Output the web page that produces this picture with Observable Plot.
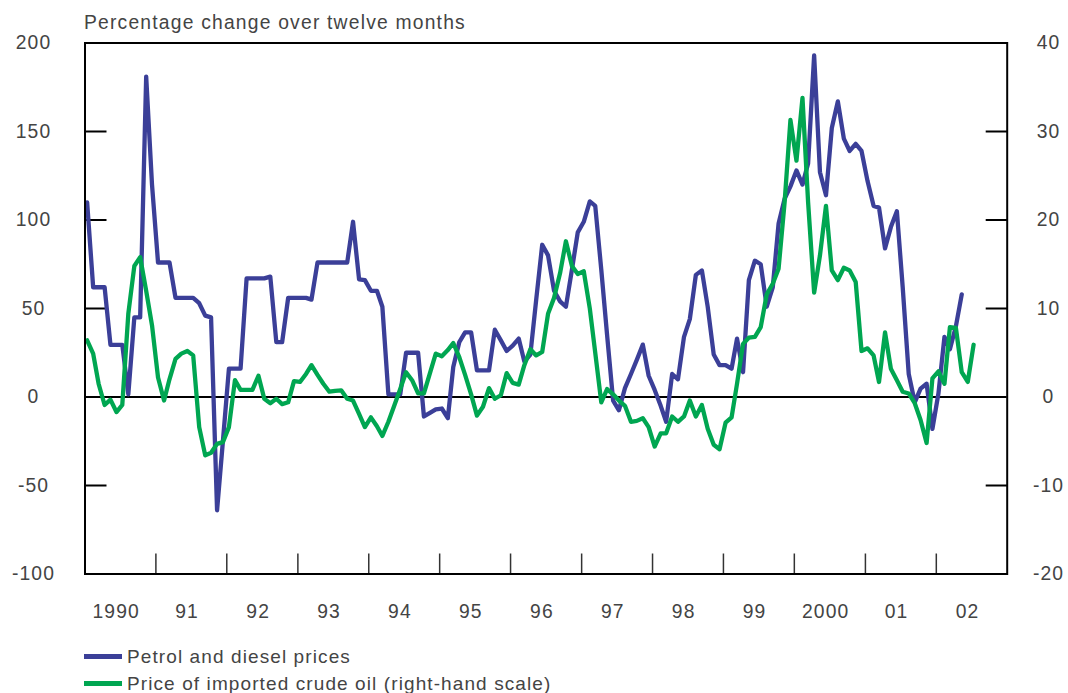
<!DOCTYPE html>
<html><head><meta charset="utf-8">
<script src="https://cdn.jsdelivr.net/npm/d3@7"></script>
<script src="https://cdn.jsdelivr.net/npm/@observablehq/plot@0.6"></script>
<style>
body{margin:0;background:#fff;font-family:"Liberation Sans",Arial,sans-serif;}
#wrap{position:relative;width:1068px;height:693px;overflow:hidden;}
#chart{position:absolute;left:0;top:0;}
#title{position:absolute;left:84px;top:13px;font-size:19.3px;line-height:19px;color:#444;letter-spacing:1.2px;white-space:nowrap;}
#legend{position:absolute;left:84px;top:643px;font-size:19px;color:#444;letter-spacing:1.1px;}
.item{display:flex;align-items:center;height:27px;white-space:nowrap;}
.sw{width:38px;height:5px;margin-right:5px;}
</style></head>
<body><div id="wrap"><div id="chart"></div><div id="title">Percentage change over twelve months</div><div id="legend"></div></div>
<script>
// Monthly data starting January 1990
const startYear = 1990;
// Petrol and diesel prices, % change over twelve months (left scale)
const petrol = [110,62,62,62,29.5,29.5,29.5,1.5,45,45,
181,120,76,76,76,56,56,56,56,53,
46,45,-64,-25,16,16,16,67,67,67,
67,68,31,31,56,56,56,56,55,76,
76,76,76,76,76,99,66.5,66,60,60,
51,1.5,1.5,1.5,25,25,25,-11,-9,-7,
-6.5,-12,17,31,36.5,36.5,15,15,15,38,
32,26,29,33,20,24,55,86,80,60,
54,51,72,93,99,110.5,108,72,35,-2,
-7.5,5,13,21,29.6,12,4,-5,-14,13,
10,34,44,69,71.5,51,24,18,18,16,
33,14,66,77,75,51,62,98,112,119,
128,120,132,193,127,114,152,167,146,139,
143,139,122,108,107,84,96,105,62,13,
-3,4.7,7.5,-18,2,34,27,40,58];
// Price of imported crude oil, % change over twelve months (right scale)
const crude = [6.4,4.9,1.5,-0.9,-0.3,-1.7,-0.9,9.4,14.8,15.8,
12,8.1,2.2,-0.4,2,4.3,4.9,5.2,4.7,-3.4,
-6.6,-6.3,-5.3,-5.1,-3.4,1.9,0.8,0.8,0.8,2.4,
-0.2,-0.7,-0.2,-0.8,-0.6,1.8,1.7,2.6,3.6,2.5,
1.5,0.6,0.7,0.75,-0.2,-0.4,-1.9,-3.4,-2.3,-3.3,
-4.4,-2.8,-1.0,0.9,2.8,1.9,0.4,0.4,2.7,4.9,
4.6,5.3,6.1,4.5,2.5,0.3,-2.1,-1.1,1.0,-0.2,
0.2,2.7,1.6,1.4,3.6,5.4,4.7,5.1,9.4,11.2,
14,17.6,14.8,13.9,14.2,10,5,-0.6,0.9,0.3,
-0.4,-1,-2.8,-2.7,-2.4,-3.4,-5.6,-4.1,-4.1,-2.2,
-2.8,-2.2,-0.4,-2.2,-0.9,-3.6,-5.4,-5.9,-2.9,-2.3,
1.5,6.0,6.7,6.8,7.9,11.6,12.8,14.5,22,31.3,
26.7,33.8,22,11.8,16,21.6,14.3,13.2,14.6,14.3,
13.0,5.2,5.5,4.7,1.7,7.3,3.2,1.9,0.6,0.4,
-0.7,-2.6,-5.2,2.1,2.9,1.5,7.9,7.8,2.8,1.7,5.9];
const yearLabels = ["1990","91","92","93","94","95","96","97","98","99","2000","01","02"];
const leftTicks = [-100,-50,0,50,100,150,200];
const rightTicks = [-20,-10,0,10,20,30,40];
const seriesNames = ["Petrol and diesel prices","Price of imported crude oil (right-hand scale)"];
const seriesColors = ["#3b3f98","#00a651"];

const k = (leftTicks[leftTicks.length-1]-leftTicks[0])/(rightTicks[rightTicks.length-1]-rightTicks[0]);
const toDate = i => new Date(Date.UTC(startYear, i, 12));
const petrolRows = petrol.map((v,i)=>({date:toDate(i), value:v}));
const crudeRows = crude.map((v,i)=>({date:toDate(i), value:v}));
const nYears = yearLabels.length;
const yearBounds = d3.range(1, nYears).map(i=>new Date(Date.UTC(startYear+i,0,1)));
const midYears = d3.range(nYears).map(i=>new Date(Date.UTC(startYear+i,6,1)));
const innerTicks = leftTicks.filter(v=>v!==0 && v!==leftTicks[0] && v!==leftTicks[leftTicks.length-1]);
const fmt = v => String(v).replace("\u2212","-");

const chart = Plot.plot({
  width:1068, height:630,
  marginTop:42.5, marginBottom:56.5, marginLeft:84.5, marginRight:61.3,
  x:{type:"utc", domain:[new Date(Date.UTC(startYear,0,1)), new Date(Date.UTC(startYear+nYears,0,1))]},
  y:{domain:[leftTicks[0], leftTicks[leftTicks.length-1]]},
  style:{fontFamily:"'Liberation Sans', Arial, sans-serif", fontSize:"19.3px", color:"#444", background:"white", letterSpacing:"1.1px"},
  marks:[
    Plot.axisY({anchor:"left", ticks:innerTicks, tickSize:-22, fill:"none", stroke:"#000", strokeWidth:2, label:null}),
    Plot.axisY({anchor:"left", ticks:leftTicks, tickSize:0, tickPadding:51.5, textAnchor:"middle", tickFormat:fmt, label:null}),
    Plot.axisY({anchor:"right", ticks:innerTicks, tickSize:-22, fill:"none", stroke:"#000", strokeWidth:2, label:null}),
    Plot.axisY({anchor:"right", ticks:rightTicks.map(v=>v*k), tickSize:0, tickPadding:41.3, textAnchor:"middle", tickFormat:v=>fmt(Math.round(v/k)), label:null}),
    Plot.axisX({ticks:yearBounds, tickSize:-20, fill:"none", stroke:"#333", strokeWidth:1.5, label:null}),
    Plot.axisX({ticks:midYears, tickSize:0, tickPadding:30, dx:-4, tickFormat:d=>yearLabels[d.getUTCFullYear()-startYear], label:null}),
    Plot.ruleY([0], {stroke:"#000", strokeWidth:2}),
    Plot.line(petrolRows, {x:"date", y:"value", stroke:seriesColors[0], strokeWidth:4.3, strokeLinejoin:"round"}),
    Plot.line(crudeRows, {x:"date", y:d=>d.value*k, stroke:seriesColors[1], strokeWidth:4.3, strokeLinejoin:"round"}),
    Plot.frame({stroke:"#000", strokeWidth:2})
  ]
});
document.getElementById("chart").appendChild(chart);
const leg = document.getElementById("legend");
seriesNames.forEach((n,i)=>{
  const it = document.createElement("div"); it.className="item";
  const sw = document.createElement("span"); sw.className="sw"; sw.style.background=seriesColors[i];
  const tx = document.createElement("span"); tx.textContent=n;
  it.appendChild(sw); it.appendChild(tx); leg.appendChild(it);
});
</script>
</body></html>
